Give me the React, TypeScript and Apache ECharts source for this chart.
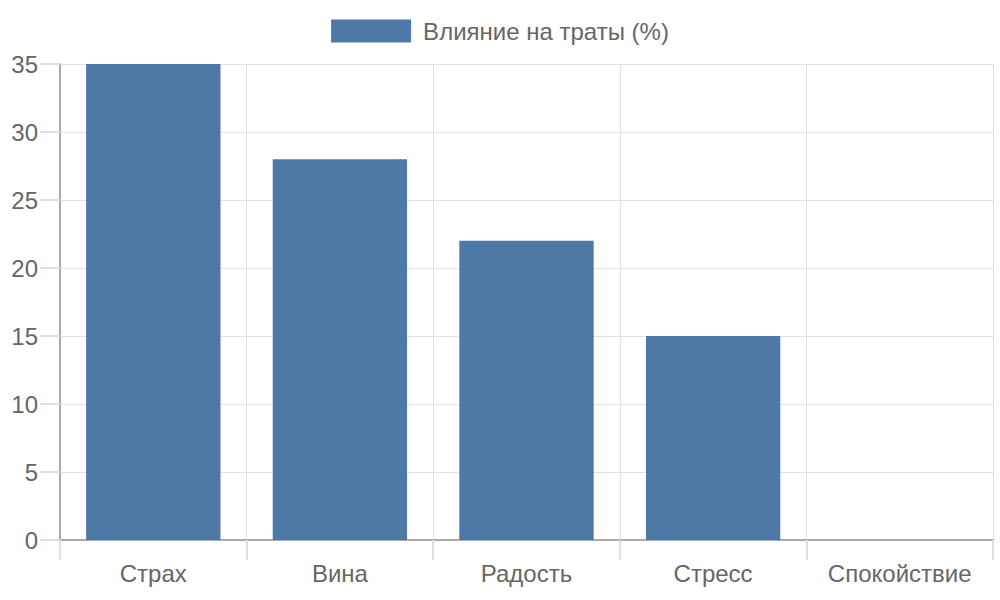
import { useEffect, useRef } from "react";
import * as echarts from "echarts";

const categories = ["Страх", "Вина", "Радость", "Стресс", "Спокойствие"];
const spendingImpact = [35, 28, 22, 15, 0];
const seriesName = "Влияние на траты (%)";

const TEXT = "#666666";
const GRID = "#e0e0e0";
const AXIS = "#aaaaaa";
const FONT = "'Liberation Sans', Arial, Helvetica, sans-serif";

function App() {
  const chartRef = useRef<HTMLDivElement>(null);

  useEffect(() => {
    if (!chartRef.current) return;
    const chart = echarts.init(chartRef.current, undefined, { renderer: "svg" });

    chart.setOption({
      animation: false,
      textStyle: { fontFamily: FONT },
      legend: {
        top: 14,
        left: "center",
        icon: "rect",
        itemWidth: 80,
        itemHeight: 23,
        textStyle: { fontSize: 24, color: TEXT, fontFamily: FONT, padding: [0, 0, 0, 7] },
        data: [seriesName],
      },
      grid: { left: 60, right: 7, top: 64, bottom: 60 },
      xAxis: {
        type: "category",
        data: categories,
        boundaryGap: true,
        axisLine: { show: true, lineStyle: { color: AXIS, width: 2 } },
        axisTick: { show: true, interval: 0, length: 20, lineStyle: { color: GRID, width: 2 } },
        splitLine: { show: true, interval: 0, lineStyle: { color: GRID, width: 1 } },
        axisLabel: { interval: 0, fontSize: 24, color: TEXT, fontFamily: FONT, margin: 21 },
      },
      yAxis: {
        type: "value",
        min: 0,
        max: 35,
        interval: 5,
        axisLine: { show: true, lineStyle: { color: AXIS, width: 2 } },
        axisTick: { show: true, length: 20, lineStyle: { color: GRID, width: 2 } },
        splitLine: { show: true, lineStyle: { color: GRID, width: 1 } },
        axisLabel: { fontSize: 24, color: TEXT, fontFamily: FONT, margin: 22 },
      },
      series: [
        {
          name: seriesName,
          type: "bar",
          data: spendingImpact,
          barWidth: "72%",
          itemStyle: { color: "#4e79a7" },
        },
      ],
    });

    return () => {
      chart.dispose();
    };
  }, []);

  return (
    <div
      ref={chartRef}
      style={{ position: "fixed", left: 0, top: 0, width: "1000px", height: "600px", background: "#fff" }}
    />
  );
}

export default App;
